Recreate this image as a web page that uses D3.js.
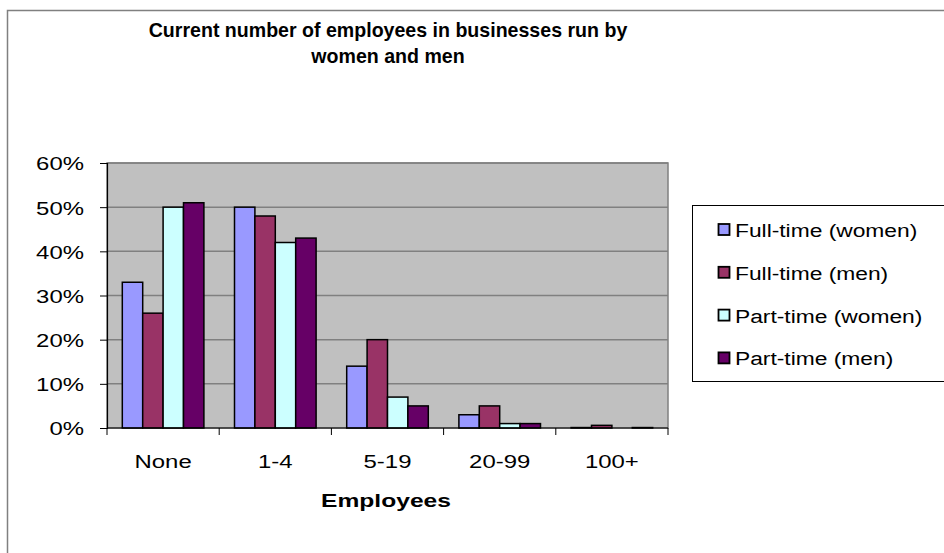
<!DOCTYPE html>
<html>
<head>
<meta charset="utf-8">
<script src="https://cdn.jsdelivr.net/npm/d3@7/dist/d3.min.js"></script>
<style>
  body { margin: 0; background: #fff; }
  svg { display: block; font-family: "Liberation Sans", Arial, sans-serif; }
</style>
</head>
<body>
<div id="chart"></div>
<script>
// categories and series (values in %)
const categories = ["None", "1-4", "5-19", "20-99", "100+"];
const seriesNames = ["Full-time (women)", "Full-time (men)", "Part-time (women)", "Part-time (men)"];
const seriesColors = ["#9999FF", "#993366", "#CCFFFF", "#660066"];
const fullTimeWomen = [33, 50, 14, 3, 0.1];
const fullTimeMen = [26, 48, 20, 5, 0.6];
const partTimeWomen = [50, 42, 7, 1, 0];
const partTimeMen = [51, 43, 5, 1, 0.1];
const yTicks = [0, 10, 20, 30, 40, 50, 60];

const seriesValues = [fullTimeWomen, fullTimeMen, partTimeWomen, partTimeMen];

const W = 944, H = 553;
// plot area
const plot = { left: 107, right: 668, top: 163, bottom: 428 };

// the original text is a bit wider than Arial, so stretch it horizontally
const LABEL_SIZE = 19, LABEL_SX = 1.26;

function place(x, y, sx) {
    return `translate(${x},${y}) scale(${sx},1)`;
}

const svg = d3.select("#chart").append("svg")
    .attr("width", W)
    .attr("height", H);

// outer chart border
svg.append("rect")
    .attr("x", 7.5).attr("y", 10.5)
    .attr("width", W).attr("height", H)
    .attr("fill", "#fff")
    .attr("stroke", "#808080")
    .attr("stroke-width", 1.5);

// title
const title = svg.append("g")
    .attr("transform", place(388, 0, 0.96))
    .append("text")
    .attr("text-anchor", "middle")
    .attr("font-weight", "bold")
    .attr("font-size", 20.4)
    .attr("fill", "#000");
title.append("tspan").attr("x", 0).attr("y", 37).text("Current number of employees in businesses run by");
title.append("tspan").attr("x", 0).attr("y", 63).text("women and men");

const xScale = d3.scaleBand()
    .domain(categories)
    .range([plot.left, plot.right])
    .padding(0);

// Excel-style gap width 150%
const bw = xScale.bandwidth();
const gap = bw * 1.5 / 5.5;
const xInner = d3.scaleBand()
    .domain(d3.range(seriesNames.length))
    .range([gap / 2, bw - gap / 2])
    .padding(0);

const yScale = d3.scaleLinear()
    .domain([0, 60])
    .range([plot.bottom, plot.top]);

// plot background
svg.append("rect")
    .attr("x", plot.left).attr("y", plot.top)
    .attr("width", plot.right - plot.left)
    .attr("height", plot.bottom - plot.top)
    .attr("fill", "#C0C0C0")
    .attr("stroke", "#808080")
    .attr("stroke-width", 1.5);

// gridlines
svg.append("g")
    .selectAll("line")
    .data(yTicks.filter(d => d > 0))
    .enter()
    .append("line")
    .attr("x1", plot.left).attr("x2", plot.right)
    .attr("y1", d => yScale(d)).attr("y2", d => yScale(d))
    .attr("stroke", "#808080")
    .attr("stroke-width", 1.5);

// bars
svg.append("g")
    .selectAll("g")
    .data(seriesValues)
    .enter()
    .append("g")
    .attr("fill", (d, i) => seriesColors[i])
    .each(function(vals, s) {
        d3.select(this).selectAll("rect")
            .data(vals.map((v, i) => ({ cat: categories[i], v: v })).filter(d => d.v > 0))
            .enter()
            .append("rect")
            .attr("x", d => xScale(d.cat) + xInner(s))
            .attr("y", d => yScale(d.v))
            .attr("width", xInner.bandwidth())
            .attr("height", d => plot.bottom - yScale(d.v))
            .attr("stroke", "#000")
            .attr("stroke-width", 1.5);
    });

// y axis
const yAxis = svg.append("g")
    .attr("transform", `translate(${plot.left},0)`)
    .call(d3.axisLeft(yScale).tickValues(yTicks).tickSize(7).tickFormat(d => d + "%"));
yAxis.select(".domain").attr("stroke", "#000").attr("stroke-width", 1.2);
yAxis.selectAll(".tick line").attr("stroke", "#000");
yAxis.selectAll(".tick text")
    .attr("x", 0)
    .attr("dy", "0.36em")
    .attr("transform", place(84 - plot.left, 0, LABEL_SX))
    .attr("font-size", LABEL_SIZE)
    .attr("font-family", "Liberation Sans, Arial, sans-serif")
    .attr("fill", "#000");

// x axis: ticks between categories
const xAxis = svg.append("g")
    .attr("transform", `translate(0,${plot.bottom})`);
xAxis.append("line")
    .attr("x1", plot.left).attr("x2", plot.right)
    .attr("stroke", "#000").attr("stroke-width", 1.2);
xAxis.selectAll("line.tk")
    .data(categories.concat([null]))
    .enter()
    .append("line")
    .attr("class", "tk")
    .attr("x1", (d, i) => plot.left + i * bw)
    .attr("x2", (d, i) => plot.left + i * bw)
    .attr("y1", 0).attr("y2", 7)
    .attr("stroke", "#000");
xAxis.selectAll("text")
    .data(categories)
    .enter()
    .append("text")
    .attr("transform", d => place(xScale(d) + bw / 2, 40, LABEL_SX))
    .attr("text-anchor", "middle")
    .attr("font-size", LABEL_SIZE)
    .attr("fill", "#000")
    .text(d => d);

// x axis title
svg.append("text")
    .attr("transform", place(386, 507, 1.33))
    .attr("text-anchor", "middle")
    .attr("font-weight", "bold")
    .attr("font-size", 18.5)
    .text("Employees");

// legend
const legend = svg.append("g");
legend.append("rect")
    .attr("x", 692.5).attr("y", 205.5)
    .attr("width", 300).attr("height", 176)
    .attr("fill", "#fff")
    .attr("stroke", "#000")
    .attr("stroke-width", 1);

const items = legend.selectAll("g")
    .data(seriesNames)
    .enter()
    .append("g")
    .attr("transform", (d, i) => `translate(0,${237 + i * 42.8})`);
items.append("rect")
    .attr("x", 718.5).attr("y", -13)
    .attr("width", 11).attr("height", 11)
    .attr("fill", (d, i) => seriesColors[i])
    .attr("stroke", "#000")
    .attr("stroke-width", 1.8);
items.append("text")
    .attr("transform", place(735, 0, 1.2))
    .attr("font-size", LABEL_SIZE)
    .attr("fill", "#000")
    .text(d => d);
</script>
</body>
</html>
